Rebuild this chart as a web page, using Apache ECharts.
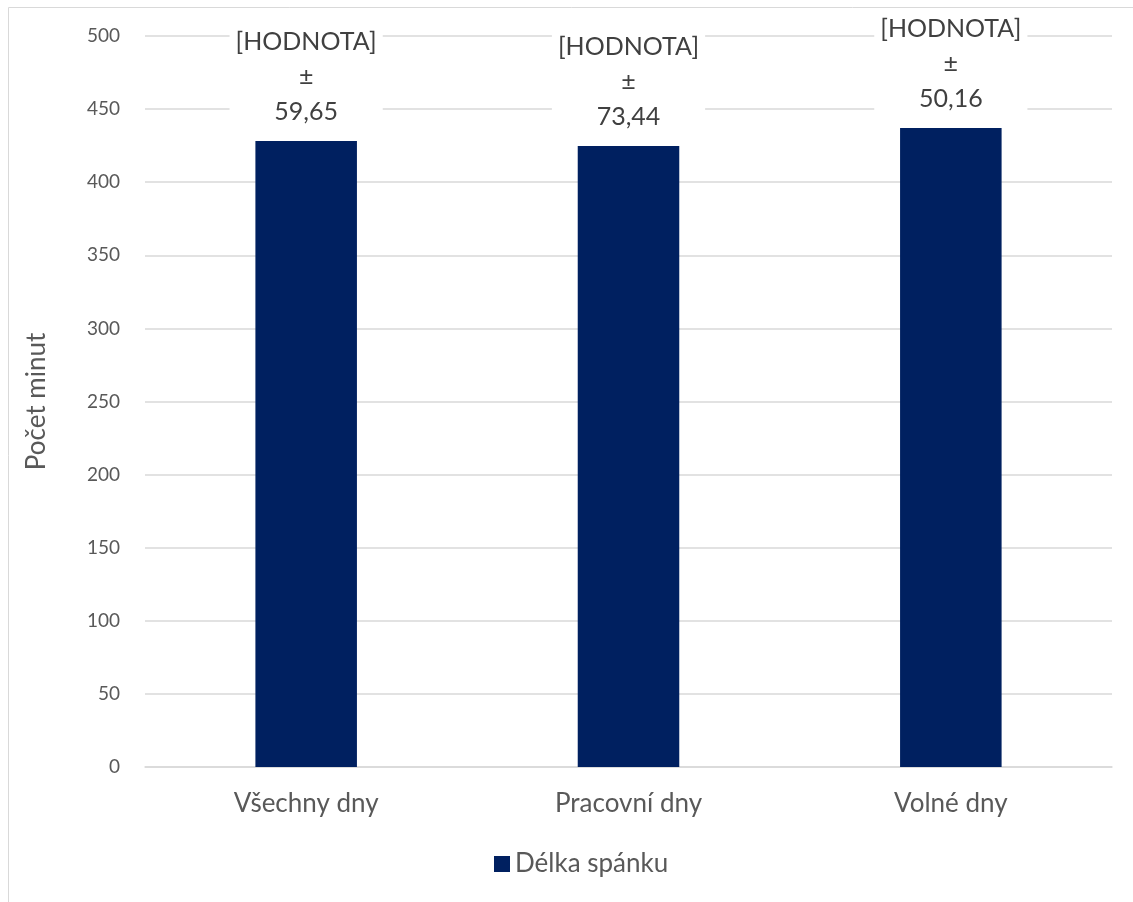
<!DOCTYPE html>
<html><head><meta charset="utf-8">
<script src="https://cdn.jsdelivr.net/npm/echarts@6/dist/echarts.min.js"></script>
<style>html,body{margin:0;padding:0;background:#fff}#c{width:1133px;height:902px}</style>
</head><body><div id="c"></div>
<script>
var categories = ['Všechny dny', 'Pracovní dny', 'Volné dny'];
var values = [428.2, 424.8, 437.1];
var sdLabels = ['59,65', '73,44', '50,16'];
var seriesName = 'Délka spánku';
var yTicks = [0, 50, 100, 150, 200, 250, 300, 350, 400, 450, 500];

var chart = echarts.init(document.getElementById('c'));
var font = 'Lato, "Open Sans", sans-serif';
chart.setOption({
  animation: false,
  graphic: [{type:'rect', shape:{x:8.5,y:7.5,width:1140,height:910}, style:{fill:'none', stroke:'#d9d9d9', lineWidth:1}, silent:true}],
  grid: {left:145, right:21, top:36, bottom:135, containLabel:false},
  legend: {bottom:20, left:489, itemWidth:16, itemHeight:16, icon:'rect', itemGap:8,
    textStyle:{fontFamily:font, fontSize:26, color:'#595959'}, data:[seriesName]},
  xAxis: {type:'category', data:categories,
    axisLine:{lineStyle:{color:'#d9d9d9', width:1.5}}, axisTick:{show:false},
    axisLabel:{fontFamily:font, fontSize:26, color:'#595959', margin:24}},
  yAxis: {type:'value', min:yTicks[0], max:yTicks[yTicks.length-1], interval:50,
    name:'Počet minut', nameLocation:'middle', nameGap:95, nameRotate:90,
    nameTextStyle:{fontFamily:font, fontSize:26, color:'#595959'},
    axisLine:{show:false}, axisTick:{show:false},
    axisLabel:{fontFamily:font, fontSize:19, color:'#595959', margin:25},
    splitLine:{lineStyle:{color:'#d9d9d9', width:1.5}}},
  series: [{name:seriesName, type:'bar', data:values, barWidth:'31.5%',
    itemStyle:{color:'#002060'},
    label:{show:true, position:'top', distance:12, fontFamily:font, fontSize:25, color:'#404040',
      lineHeight:35, backgroundColor:'#fff', padding:[0,6],
      formatter:function(p){return '[HODNOTA]\n±\n' + sdLabels[p.dataIndex];}}}]
});
</script></body></html>
